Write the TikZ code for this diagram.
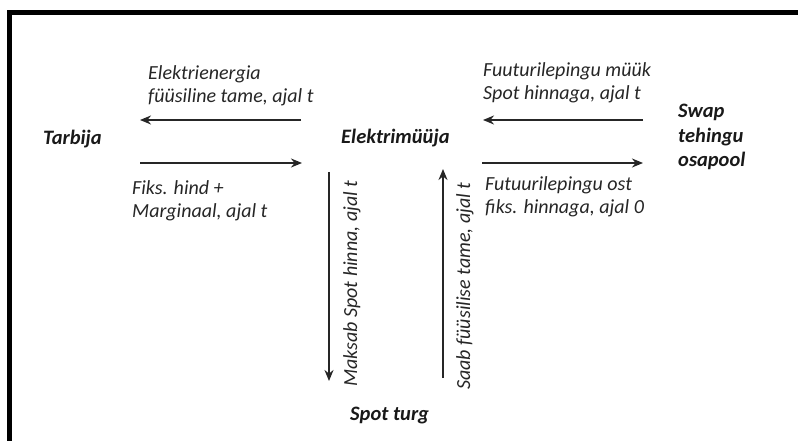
\documentclass[tikz,border=0pt]{standalone}
\usepackage{fontspec}
\setmainfont{Carlito}
\usetikzlibrary{arrows.meta}
\begin{document}
\begin{tikzpicture}[x=1pt,y=-1pt,
  lbl/.style={font=\fontsize{20}{23}\selectfont\itshape, text=black!85, inner sep=0pt, align=left, anchor=base west},
  party/.style={font=\fontsize{20.5}{24.5}\selectfont\bfseries\itshape, text=black!90, inner sep=0pt, align=left, anchor=base west},
  flow/.style={line width=2.2pt, draw=black!85, -{Stealth[length=11pt,width=9pt]}}]
\useasboundingbox (0,0) rectangle (798,441);
\draw[line width=4.5pt] (9.5,441) -- (9.5,12.5) -- (798,12.5);

\node[party] (tarbija) at (43,145) {Tarbija};
\node[party] (muuja) at (341,143) {Elektrimüüja};
\node[party] (swap) at (678,167) {Swap\\tehingu\\osapool};
\node[party] (spot) at (350,420) {Spot turg};

\node[lbl] (l1) at (148,103) {Elektrienergia\\füüsiline tame, ajal t};
\node[lbl] (l2) at (132,217) {Fiks. hind +\\Marginaal, ajal t};
\node[lbl] (l3) at (483,100) {Fuuturilepingu müük\\Spot hinnaga, ajal t};
\node[lbl] (l4) at (485,213) {Futuurilepingu ost\\fiks. hinnaga, ajal 0};
\node[lbl, rotate=90] (l5) at (357,387) {Maksab Spot hinna, ajal t};
\node[lbl, rotate=90] (l6) at (470,390) {Saab füüsilise tame, ajal t};

\coordinate (a1s) at (301,120); \coordinate (a1e) at (140,120);
\coordinate (a2s) at (140,163); \coordinate (a2e) at (302,163);
\coordinate (a3s) at (643,120); \coordinate (a3e) at (483,120);
\coordinate (a4s) at (482,163); \coordinate (a4e) at (643,163);
\coordinate (a5s) at (329,172); \coordinate (a5e) at (329,381);
\coordinate (a6s) at (443,378); \coordinate (a6e) at (443,169);

\draw[flow] (a1s) -- (a1e);
\draw[flow] (a2s) -- (a2e);
\draw[flow] (a3s) -- (a3e);
\draw[flow] (a4s) -- (a4e);
\draw[flow] (a5s) -- (a5e);
\draw[flow] (a6s) -- (a6e);
\end{tikzpicture}
\end{document}
